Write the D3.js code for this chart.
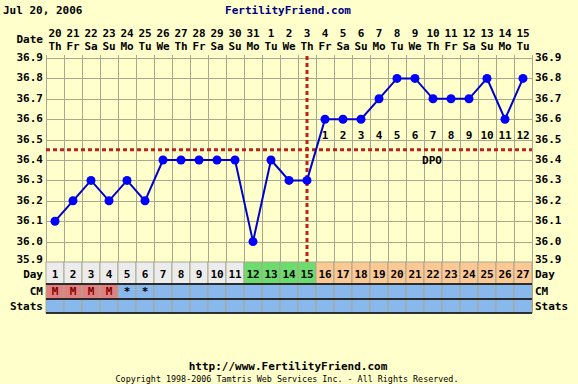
<!DOCTYPE html>
<html>
<head>
<meta charset="utf-8">
<script src="https://d3js.org/d3.v7.min.js"></script>
<style>
  body { margin: 0; background: #FFFFCC; }
  text { font-family: "DejaVu Sans Mono", monospace; font-weight: bold; }
</style>
</head>
<body>
<div id="chart"></div>
<script>
// chart data
const cycleDays = d3.range(1, 28);
const dateNums = ["20","21","22","23","24","25","26","27","28","29","30","31","1","2","3","4","5","6","7","8","9","10","11","12","13","14","15"];
const weekDays = ["Th","Fr","Sa","Su","Mo","Tu","We","Th","Fr","Sa","Su","Mo","Tu","We","Th","Fr","Sa","Su","Mo","Tu","We","Th","Fr","Sa","Su","Mo","Tu"];
const temps = [36.1,36.2,36.3,36.2,36.3,36.2,36.4,36.4,36.4,36.4,36.4,36.0,36.4,36.3,36.3,36.6,36.6,36.6,36.7,36.8,36.8,36.7,36.7,36.7,36.8,36.6,36.8];
const cmValues = ["M","M","M","M","*","*","","","","","","","","","","","","","","","","","","","","",""];
const tempTicks = [35.9,36.0,36.1,36.2,36.3,36.4,36.5,36.6,36.7,36.8,36.9];
const coverline = 36.45;
const ovulationDay = 15;
const fertileDays = [12, 13, 14, 15];

const svgAttr = { width: 578, height: 384 };
const plot = { left: 46, right: 532, top: 58, bottom: 262 };
const rows = { dayTop: 262, cmTop: 284, statsTop: 299, bottom: 313 };
const colors = {
    grid: "#A8A890",
    line: "#0000CC",
    dot: "#0000FF",
    red: "#C0201A",
    dayPre: "#ECECEC",
    dayFertile: "#6CDC6C",
    dayPost: "#FCC894",
    cmBlue: "#88B8EC",
    cmMenses: "#E08080",
    title: "#000080"
};

const svg = d3.select("#chart")
              .append("svg")
              .attr("width", svgAttr.width)
              .attr("height", svgAttr.height);

const x = d3.scaleLinear().domain([0.5, cycleDays.length + 0.5]).range([plot.left, plot.right]);
const y = d3.scaleLinear().domain([35.9, 36.9]).range([plot.bottom, plot.top]);
const colW = x(2) - x(1);
const fmt = d3.format(".1f");

// header
svg.append("text").attr("x", 3).attr("y", 14).attr("font-size", 11).text("Jul 20, 2006");
svg.append("text").attr("x", 288).attr("y", 14).attr("text-anchor", "middle")
   .attr("font-size", 11).attr("fill", colors.title).text("FertilityFriend.com");

svg.append("text").attr("x", 43).attr("y", 43).attr("text-anchor", "end").attr("font-size", 11).text("Date");
cycleDays.forEach((d, i) => {
    svg.append("text").attr("x", x(d)).attr("y", 37).attr("text-anchor", "middle")
       .attr("font-size", 11).text(dateNums[i]);
    svg.append("text").attr("x", x(d)).attr("y", 50).attr("text-anchor", "middle")
       .attr("font-size", 11).text(weekDays[i]);
});

// grid
const grid = svg.append("g").attr("stroke", colors.grid).attr("stroke-width", 1);
d3.range(0, cycleDays.length + 1).forEach(i => {
    const gx = Math.round(x(i + 0.5)) + 0.5;
    grid.append("line").attr("x1", gx).attr("x2", gx).attr("y1", plot.top - 3).attr("y2", rows.bottom);
});
tempTicks.forEach(t => {
    const gy = Math.round(y(t)) + 0.5;
    grid.append("line").attr("x1", plot.left).attr("x2", plot.right).attr("y1", gy).attr("y2", gy);
});

// temperature labels both sides
tempTicks.forEach(t => {
    const off = t === tempTicks[0] ? 1 : 3;
    svg.append("text").attr("x", 43).attr("y", y(t) + off).attr("text-anchor", "end")
       .attr("font-size", 11).text(fmt(t));
    svg.append("text").attr("x", 535).attr("y", y(t) + off)
       .attr("font-size", 11).text(fmt(t));
});

// day row
cycleDays.forEach(d => {
    const fill = d < fertileDays[0] ? colors.dayPre : (fertileDays.includes(d) ? colors.dayFertile : colors.dayPost);
    svg.append("rect").attr("x", x(d) - colW / 2).attr("y", rows.dayTop).attr("width", colW)
       .attr("height", rows.cmTop - rows.dayTop).attr("fill", fill).attr("stroke", colors.grid);
    svg.append("text").attr("x", x(d)).attr("y", rows.dayTop + 16).attr("text-anchor", "middle")
       .attr("font-size", 11).text(d);
});

// CM and stats rows
cycleDays.forEach((d, i) => {
    const isM = cmValues[i] === "M";
    svg.append("rect").attr("x", x(d) - colW / 2).attr("y", rows.cmTop).attr("width", colW)
       .attr("height", rows.statsTop - rows.cmTop).attr("fill", isM ? colors.cmMenses : colors.cmBlue)
       .attr("stroke", colors.grid);
    svg.append("rect").attr("x", x(d) - colW / 2).attr("y", rows.statsTop).attr("width", colW)
       .attr("height", rows.bottom - rows.statsTop).attr("fill", colors.cmBlue).attr("stroke", colors.grid);
    if (cmValues[i]) {
        svg.append("text").attr("x", x(d)).attr("y", rows.cmTop + 11).attr("text-anchor", "middle")
           .attr("font-size", 11).attr("fill", isM ? "#800000" : "#000").text(cmValues[i]);
    }
});
[rows.cmTop, rows.statsTop, rows.bottom].forEach(ry => {
    svg.append("line").attr("x1", plot.left).attr("x2", plot.right).attr("y1", ry).attr("y2", ry)
       .attr("stroke", "#000").attr("stroke-width", 1.5);
});

const rowLabels = [["Day", rows.dayTop + 16], ["CM", rows.cmTop + 11], ["Stats", rows.statsTop + 11]];
rowLabels.forEach(r => {
    svg.append("text").attr("x", 43).attr("y", r[1]).attr("text-anchor", "end").attr("font-size", 11).text(r[0]);
    svg.append("text").attr("x", 535).attr("y", r[1]).attr("font-size", 11).text(r[0]);
});

// coverline and ovulation line
svg.append("line").attr("x1", plot.left).attr("x2", plot.right)
   .attr("y1", y(coverline)).attr("y2", y(coverline))
   .attr("stroke", colors.red).attr("stroke-width", 3).attr("stroke-dasharray", "4,3");
svg.append("line").attr("x1", x(ovulationDay)).attr("x2", x(ovulationDay))
   .attr("y1", plot.top - 2).attr("y2", plot.bottom)
   .attr("stroke", colors.red).attr("stroke-width", 3).attr("stroke-dasharray", "4,3");

// DPO numbers
cycleDays.filter(d => d > ovulationDay).forEach(d => {
    svg.append("text").attr("x", x(d)).attr("y", y(coverline) - 11).attr("text-anchor", "middle")
       .attr("font-size", 11).text(d - ovulationDay);
});
svg.append("text").attr("x", x(22) - 1).attr("y", y(coverline) + 14).attr("text-anchor", "middle")
   .attr("font-size", 11).text("DPO");

// temperature line
const line = d3.line().x((d, i) => x(cycleDays[i])).y(d => y(d));
svg.append("path").attr("d", line(temps)).attr("fill", "none")
   .attr("stroke", colors.line).attr("stroke-width", 2);
svg.selectAll("circle.pt").data(temps).enter().append("circle")
   .attr("class", "pt")
   .attr("cx", (d, i) => x(cycleDays[i]))
   .attr("cy", d => y(d))
   .attr("r", 4.5)
   .attr("fill", colors.dot);

// footer
svg.append("text").attr("x", 288).attr("y", 370).attr("text-anchor", "middle")
   .attr("font-size", 11).text("http://www.FertilityFriend.com");
svg.append("text").attr("x", 287).attr("y", 382).attr("text-anchor", "middle")
   .attr("font-size", 8.4).style("font-weight", "normal")
   .text("Copyright 1998-2006 Tamtris Web Services Inc. - All Rights Reserved.");
</script>
</body>
</html>
